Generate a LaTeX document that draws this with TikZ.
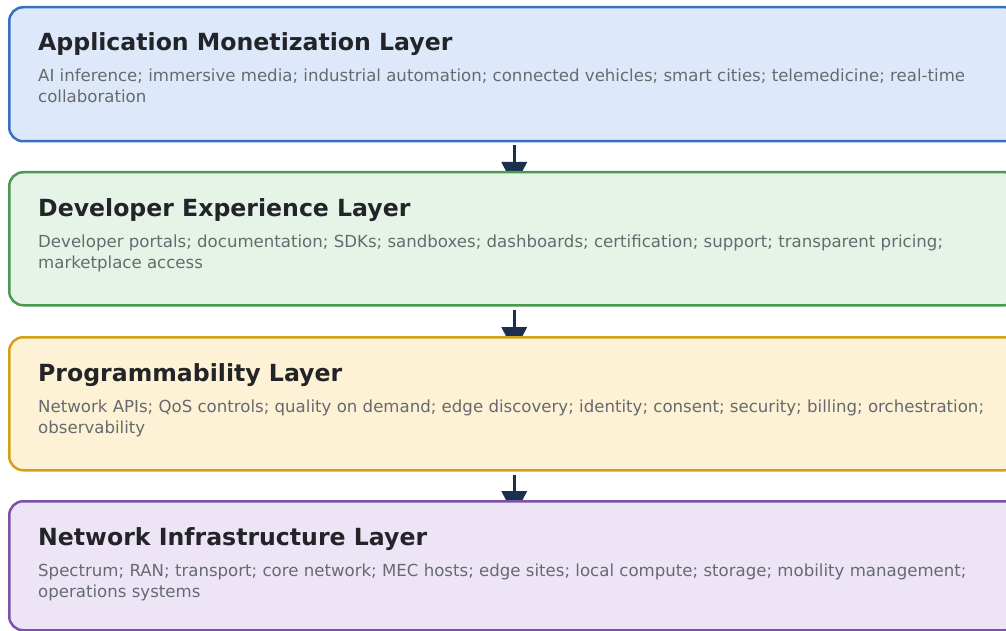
\documentclass[tikz,border=0pt]{standalone}
\usepackage{fontspec}
\setmainfont{DejaVu Sans}
\usetikzlibrary{arrows.meta,backgrounds}
\definecolor{fillA}{HTML}{DDE9FB}\definecolor{lineA}{HTML}{3A6FC0}
\definecolor{fillB}{HTML}{E6F4E8}\definecolor{lineB}{HTML}{4C9A52}
\definecolor{fillC}{HTML}{FEF2D6}\definecolor{lineC}{HTML}{D4A017}
\definecolor{fillD}{HTML}{EDE5F6}\definecolor{lineD}{HTML}{7B52AB}
\definecolor{titlecol}{HTML}{222428}
\definecolor{bodycol}{HTML}{666A6E}
\definecolor{arrowcol}{HTML}{1B2F4F}
\tikzset{
  layerbox/.style={draw, line width=2.5pt, rounded corners=14pt, minimum width=1010pt, anchor=north west, inner sep=0pt},
  layertitle/.style={anchor=base west, inner sep=0pt, text=titlecol, font=\fontsize{23.6pt}{28pt}\selectfont\bfseries},
  layerbody/.style={anchor=base west, inner sep=0pt, text=bodycol, align=left, font=\fontsize{16.6pt}{21pt}\selectfont},
  flowarrow/.style={draw=arrowcol, line width=3.5pt, -{Triangle[width=25pt,length=25pt]}, arrowcol},
}
\begin{document}
\begin{tikzpicture}[x=1pt,y=-1pt]
\useasboundingbox (0,0) rectangle (1006,631);
\node[layerbox, fill=fillA, draw=lineA, minimum height=134pt] (b1) at (8,6) {};
\node[layerbox, fill=fillB, draw=lineB, minimum height=133pt] (b2) at (8,171) {};
\node[layerbox, fill=fillC, draw=lineC, minimum height=133pt] (b3) at (8,336) {};
\node[layerbox, fill=fillD, draw=lineD, minimum height=129pt] (b4) at (8,500) {};

\node[layertitle] (t1) at ([xshift=30pt,yshift=-45pt]b1.north west) {Application Monetization Layer};
\node[layerbody] (d1) at ([xshift=30pt,yshift=-97pt]b1.north west) {AI inference; immersive media; industrial automation; connected vehicles; smart cities; telemedicine; real-time\\collaboration};
\node[layertitle] (t2) at ([xshift=30pt,yshift=-45pt]b2.north west) {Developer Experience Layer};
\node[layerbody] (d2) at ([xshift=30pt,yshift=-97pt]b2.north west) {Developer portals; documentation; SDKs; sandboxes; dashboards; certification; support; transparent pricing;\\marketplace access};
\node[layertitle] (t3) at ([xshift=30pt,yshift=-45pt]b3.north west) {Programmability Layer};
\node[layerbody] (d3) at ([xshift=30pt,yshift=-97pt]b3.north west) {Network APIs; QoS controls; quality on demand; edge discovery; identity; consent; security; billing; orchestration;\\observability};
\node[layertitle] (t4) at ([xshift=30pt,yshift=-45pt]b4.north west) {Network Infrastructure Layer};
\node[layerbody] (d4) at ([xshift=30pt,yshift=-97pt]b4.north west) {Spectrum; RAN; transport; core network; MEC hosts; edge sites; local compute; storage; mobility management;\\operations systems};

\begin{scope}[on background layer]
\draw[flowarrow] ([yshift=-3pt]b1.south) -- ([yshift=-16pt]b2.north);
\draw[flowarrow] ([yshift=-3pt]b2.south) -- ([yshift=-16pt]b3.north);
\draw[flowarrow] ([yshift=-3pt]b3.south) -- ([yshift=-16pt]b4.north);
\end{scope}
\end{tikzpicture}
\end{document}
